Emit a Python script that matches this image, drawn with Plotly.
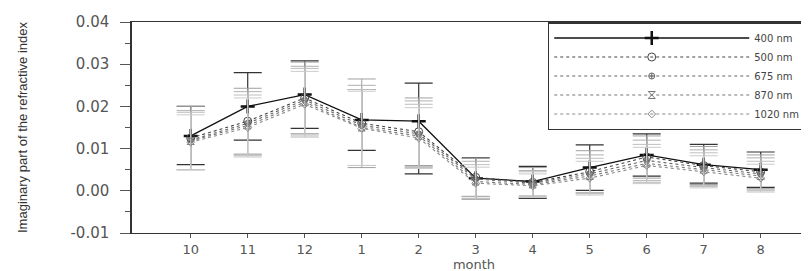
import plotly.graph_objects as go

months = ["10", "11", "12", "1", "2", "3", "4", "5", "6", "7", "8"]

k400 = [0.0130, 0.0200, 0.0228, 0.0168, 0.0165, 0.0030, 0.0022, 0.0055, 0.0085, 0.0062, 0.0050]
k500 = [0.0125, 0.0165, 0.0220, 0.0160, 0.0140, 0.0032, 0.0020, 0.0045, 0.0080, 0.0060, 0.0045]
k675 = [0.0120, 0.0160, 0.0215, 0.0155, 0.0135, 0.0028, 0.0018, 0.0040, 0.0072, 0.0055, 0.0040]
k870 = [0.0118, 0.0155, 0.0210, 0.0150, 0.0130, 0.0022, 0.0015, 0.0035, 0.0065, 0.0050, 0.0035]
k1020 = [0.0115, 0.0150, 0.0205, 0.0148, 0.0125, 0.0018, 0.0012, 0.0030, 0.0060, 0.0045, 0.0030]

e400_up = [0.0070, 0.0080, 0.0080, 0.0072, 0.0090, 0.0048, 0.0036, 0.0054, 0.0050, 0.0048, 0.0042]
e400_dn = [0.0068, 0.0080, 0.0080, 0.0072, 0.0125, 0.0050, 0.0040, 0.0054, 0.0050, 0.0044, 0.0042]
e500 = [0.0075, 0.0078, 0.0085, 0.0105, 0.0080, 0.0045, 0.0035, 0.0050, 0.0050, 0.0045, 0.0040]
e675 = [0.0070, 0.0075, 0.0080, 0.0095, 0.0078, 0.0042, 0.0030, 0.0045, 0.0048, 0.0042, 0.0038]
e870 = [0.0068, 0.0072, 0.0080, 0.0090, 0.0075, 0.0040, 0.0030, 0.0042, 0.0045, 0.0040, 0.0035]
e1020 = [0.0065, 0.0070, 0.0078, 0.0088, 0.0072, 0.0038, 0.0028, 0.0040, 0.0043, 0.0038, 0.0033]

y_ticks = [-0.01, 0.00, 0.01, 0.02, 0.03, 0.04]
y_ticklabels = ["-0.01", "0.00", "0.01", "0.02", "0.03", "0.04"]

FONT = "DejaVu Sans"
fig = go.Figure()

fig.add_trace(go.Scatter(
    x=months, y=k400, name="400 nm", mode="lines+markers",
    line=dict(color="#111111", width=1.3),
    marker=dict(symbol="cross-thin-open", size=10, line=dict(color="#111111", width=2.5)),
    error_y=dict(type="data", symmetric=False, array=e400_up, arrayminus=e400_dn,
                 color="#333333", thickness=1.2, width=14),
))

others = [
    ("500 nm", k500, e500, "#444444", "circle-open", 8, "#a0a0a0"),
    ("675 nm", k675, e675, "#666666", "circle-cross-open", 6, "#b0b0b0"),
    ("870 nm", k870, e870, "#777777", "hourglass-open", 7, "#bebebe"),
    ("1020 nm", k1020, e1020, "#8a8a8a", "diamond-open", 6, "#cacaca"),
]
for name, vals, err, col, sym, sz, ecol in others:
    fig.add_trace(go.Scatter(
        x=months, y=vals, name=name, mode="lines+markers",
        line=dict(color=col, width=1.1, dash="dot"),
        marker=dict(symbol=sym, size=sz, line=dict(color=col, width=1)),
        error_y=dict(type="data", array=err, color=ecol, thickness=1, width=14),
    ))

fig.update_layout(
    width=809, height=271,
    margin=dict(l=124, r=1, t=14, b=46),
    paper_bgcolor="white", plot_bgcolor="white",
    font=dict(family=FONT, color="#444444", size=12),
    showlegend=True,
    legend=dict(
        x=0.985, y=1.0, xanchor="right", yanchor="top",
        bordercolor="#333333", borderwidth=1.5, bgcolor="rgba(255,255,255,0)",
        font=dict(family=FONT, size=10, color="#444444"),
        itemwidth=195, tracegroupgap=0,
    ),
    xaxis=dict(
        type="category", range=[-1.03, 10.97],
        showline=True, linecolor="#333333", linewidth=1.2, mirror=True,
        ticks="outside", ticklen=4, tickcolor="#555555",
        showgrid=False, zeroline=False,
        tickfont=dict(family=FONT, size=13, color="#555555"),
        title=dict(text="month", font=dict(family=FONT, size=13, color="#555555"), standoff=0),
    ),
    yaxis=dict(
        range=[-0.01, 0.04],
        tickvals=y_ticks, ticktext=y_ticklabels,
        showline=True, linecolor="#333333", linewidth=1.5,
        ticks="outside", ticklen=10, tickcolor="#555555",
        minor=dict(dtick=0.005, tick0=0, ticks="outside", ticklen=5, tickcolor="#555555"),
        ticklabelstandoff=8,
        showgrid=False, zeroline=False,
        tickfont=dict(family=FONT, size=15, color="#555555"),
        title=dict(text="Imaginary part of the refractive index",
                   font=dict(family="Liberation Sans Narrow, Liberation Sans", size=13, color="#333333"),
                   standoff=40),
    ),
)

fig.write_html("out.html")
